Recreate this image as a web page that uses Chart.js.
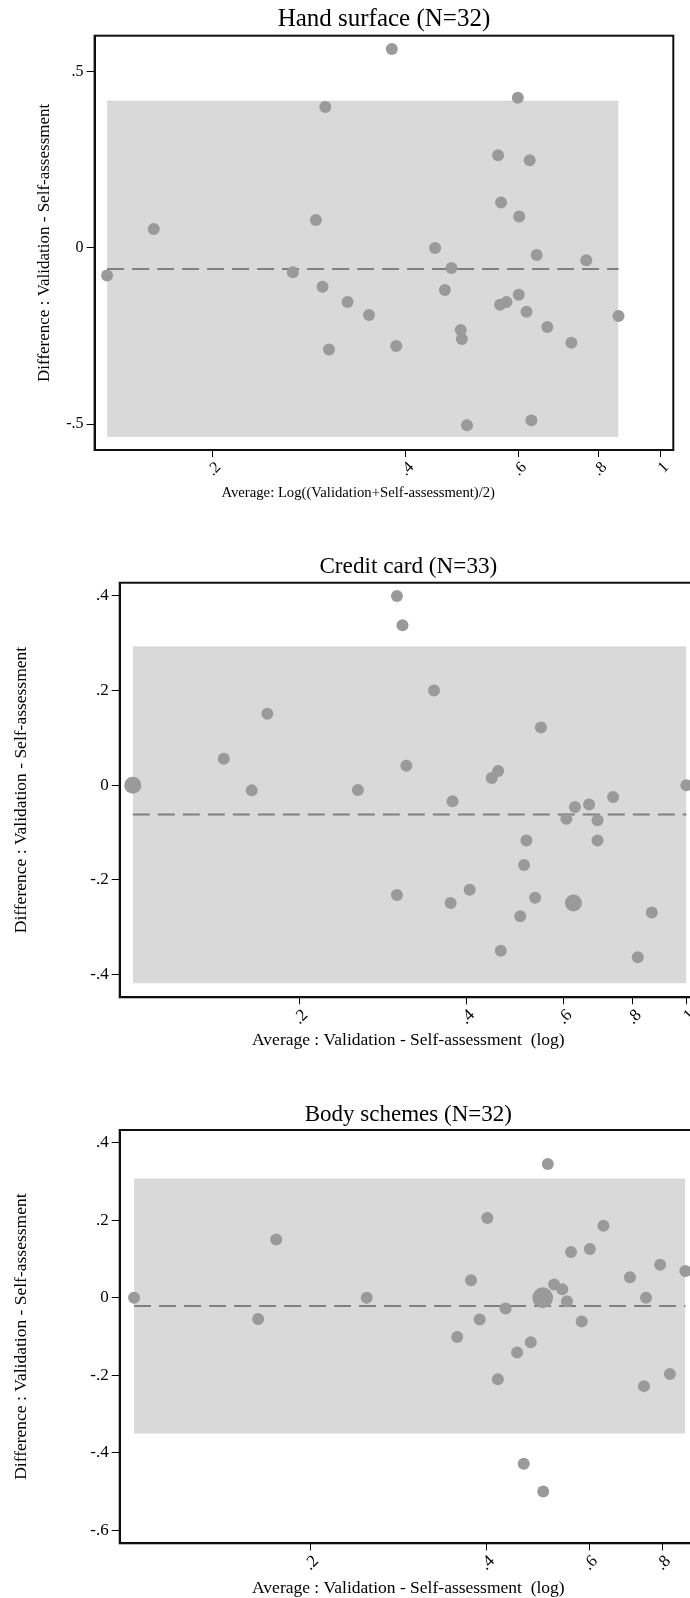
<!DOCTYPE html>
<html>
<head>
<meta charset="utf-8">
<script src="https://cdn.jsdelivr.net/npm/chart.js@4.4.1/dist/chart.umd.min.js"></script>
<style>
html, body { margin: 0; padding: 0; background: #fff; overflow: hidden; width: 690px; height: 1598px; }
.panel { position: absolute; left: 0; }
</style>
</head>
<body>
<div class="panel" style="top:0px"><canvas id="c1" width="720" height="515" style="width:720px;height:515px"></canvas></div>
<div class="panel" style="top:520px"><canvas id="c2" width="720" height="535" style="width:720px;height:535px"></canvas></div>
<div class="panel" style="top:1060px"><canvas id="c3" width="720" height="545" style="width:720px;height:545px"></canvas></div>
<script>
// ---------------- DATA ----------------
// Panel 1: Hand surface (N=32)
const handAvg  = [0.381, 0.599, 0.300, 0.558, 0.625, 0.564, 0.602, 0.290, 0.162, 0.445, 0.137, 0.267, 0.641, 0.766, 0.472, 0.297,
                  0.461, 0.601, 0.325, 0.562, 0.575, 0.618, 0.351, 0.860, 0.666, 0.488, 0.490, 0.726, 0.387, 0.304, 0.629, 0.499];
const handDiff = [0.564, 0.426, 0.400, 0.263, 0.249, 0.129, 0.089, 0.079, 0.054, 0.000, -0.078, -0.069, -0.020, -0.035, -0.057, -0.110,
                  -0.119, -0.133, -0.153, -0.161, -0.153, -0.181, -0.190, -0.193, -0.224, -0.233, -0.258, -0.269, -0.278, -0.288, -0.489, -0.503];
const handLimits = [-0.536, -0.060, 0.416];   // lower limit, mean difference, upper limit
const handXTicks = [0.2, 0.4, 0.6, 0.8, 1];
const handYTicks = [-0.5, 0, 0.5];

// Panel 2: Credit card (N=33)
const cardAvg  = [0.300, 0.307, 0.350, 0.175, 0.546, 0.146, 0.312, 0.457, 0.445, 0.100, 0.100, 1.000, 0.164, 0.255, 0.378, 0.629, 0.667,
                  0.737, 0.607, 0.691, 0.691, 0.514, 0.509, 0.406, 0.300, 0.533, 0.375, 0.625, 0.625, 0.866, 0.501, 0.462, 0.817];
const cardDiff = [0.400, 0.338, 0.200, 0.151, 0.122, 0.056, 0.041, 0.030, 0.015, 0.000, 0.000, 0.000, -0.011, -0.010, -0.034, -0.046, -0.041,
                  -0.025, -0.071, -0.074, -0.117, -0.117, -0.169, -0.221, -0.232, -0.238, -0.249, -0.249, -0.249, -0.269, -0.277, -0.350, -0.364];
const cardLimits = [-0.419, -0.062, 0.292];
const cardXTicks = [0.2, 0.4, 0.6, 0.8, 1];
const cardYTicks = [-0.4, -0.2, 0, 0.2, 0.4];

// Panel 3: Body schemes (N=32)
const bodyAvg  = [0.510, 0.402, 0.635, 0.175, 0.602, 0.559, 0.794, 0.877, 0.705, 0.377, 0.523, 0.540, 0.100, 0.250, 0.500, 0.500,
                  0.500, 0.751, 0.550, 0.432, 0.163, 0.390, 0.583, 0.357, 0.477, 0.452, 0.419, 0.745, 0.825, 0.464, 0.501];
const bodyDiff = [0.345, 0.206, 0.186, 0.150, 0.126, 0.118, 0.085, 0.069, 0.053, 0.045, 0.034, 0.022, 0.000, 0.000, 0.000, 0.000,
                  0.000, 0.000, -0.009, -0.028, -0.055, -0.056, -0.061, -0.101, -0.115, -0.141, -0.210, -0.228, -0.197, -0.428, -0.500];
const bodyLimits = [-0.350, -0.021, 0.306];
const bodyXTicks = [0.2, 0.4, 0.6, 0.8];
const bodyYTicks = [-0.6, -0.4, -0.2, 0, 0.2, 0.4];

// ---------------- RENDERING ----------------
const SERIF = "'Liberation Serif', 'Times New Roman', serif";
const Y_TITLE = 'Difference : Validation - Self-assessment';

function fmt(v) {
  const s = String(+(+v).toFixed(3));
  return s.replace(/^0\./, '.').replace(/^-0\./, '-.');
}

// identical observations are drawn as one larger (area-weighted) marker
function groupPoints(xs, ys) {
  const map = new Map();
  xs.forEach((x, i) => {
    const k = x + '|' + ys[i];
    if (!map.has(k)) map.set(k, { x: x, y: ys[i], n: 0 });
    map.get(k).n++;
  });
  return Array.from(map.values());
}

const framePlugin = {
  id: 'frame',
  afterDatasetsDraw(chart) {
    const { ctx, chartArea: a } = chart;
    ctx.save();
    ctx.strokeStyle = '#111';
    ctx.lineWidth = 2;
    ctx.strokeRect(a.left, a.top, a.right - a.left, a.bottom - a.top);
    ctx.restore();
  }
};

function makePanel(id, title, xTitle, avg, diff, limits, xTicks, yTicks, L) {
  const pts = groupPoints(avg, diff);
  const xmin = Math.min(...avg), xmax = Math.max(...avg);
  const [lower, mean, upper] = limits;
  new Chart(document.getElementById(id), {
    type: 'scatter',
    data: {
      datasets: [
        { data: pts.map(p => ({ x: p.x, y: p.y })), pointRadius: pts.map(p => 6 * Math.sqrt(p.n)),
          backgroundColor: '#9a9a9a', borderWidth: 0, pointHoverRadius: 0, order: 0 },
        { type: 'line', data: [{ x: xmin, y: mean }, { x: xmax, y: mean }], borderColor: '#808080', borderWidth: 2,
          borderDash: [17, 8], pointRadius: 0, fill: false, order: 1 },
        { type: 'line', data: [{ x: xmin, y: upper }, { x: xmax, y: upper }], borderColor: '#d1d1d1', borderWidth: 1,
          backgroundColor: '#d9d9d9', pointRadius: 0, fill: { value: lower }, order: 2 }
      ]
    },
    options: {
      responsive: false, animation: false, events: [],
      layout: { padding: { left: 0, right: L.padRight, top: 0, bottom: 0 } },
      plugins: {
        legend: { display: false }, tooltip: { enabled: false },
        title: { display: true, text: title, fullSize: false, color: '#000',
                 font: { family: SERIF, size: L.titleSize, weight: 'normal', lineHeight: 1.2 },
                 padding: { top: L.tTop, bottom: L.tBottom } }
      },
      scales: {
        x: {
          type: 'logarithmic', min: L.xMin, max: L.xMax,
          afterBuildTicks: s => { s.ticks = xTicks.map(v => ({ value: v })); },
          afterFit: s => { s.height = L.xH; },
          ticks: { autoSkip: false, minRotation: 45, maxRotation: 45, labelOffset: 6, padding: 1, color: '#000',
                   font: { family: SERIF, size: L.tickSize }, callback: v => fmt(v) },
          grid: { display: true, drawOnChartArea: false, drawTicks: true, tickLength: 7, color: '#000', lineWidth: 1 },
          border: { display: true, color: '#000', width: 2 },
          title: { display: true, text: xTitle, color: '#000', font: { family: SERIF, size: L.xTitleSize, lineHeight: 1.2 },
                   padding: { top: 0, bottom: L.xTitlePb } }
        },
        y: {
          type: 'linear', min: L.yMin, max: L.yMax,
          afterBuildTicks: s => { s.ticks = yTicks.map(v => ({ value: v })); },
          afterFit: s => { s.width = L.yW; },
          ticks: { autoSkip: false, padding: 3, color: '#000', font: { family: SERIF, size: L.tickSize }, callback: v => fmt(v) },
          grid: { display: true, drawOnChartArea: false, drawTicks: true, tickLength: 8, color: '#000', lineWidth: 1 },
          border: { display: true, color: '#000', width: 2 },
          title: { display: true, text: Y_TITLE, color: '#000', font: { family: SERIF, size: L.yTitleSize, lineHeight: 1.2 },
                   padding: { top: L.yTitlePt, bottom: 0 } }
        }
      }
    },
    plugins: [framePlugin]
  });
}

makePanel('c1', 'Hand surface (N=32)', 'Average: Log((Validation+Self-assessment)/2)' + '              ',
  handAvg, handDiff, handLimits, handXTicks, handYTicks,
  { padRight: 46.7, titleSize: 25, tTop: 4, tBottom: 1.7, xH: 65, xTitleSize: 14.7, xTitlePb: 12.9,
    yW: 94.6, yTitleSize: 17, yTitlePt: 34.8, tickSize: 16,
    xMin: 0.131, xMax: 1.047, yMin: -0.573, yMax: 0.602 });

makePanel('c2', 'Credit card (N=33)', 'Average : Validation - Self-assessment  (log)',
  cardAvg, cardDiff, cardLimits, cardXTicks, cardYTicks,
  { padRight: 23, titleSize: 23.2, tTop: 32.8, tBottom: 2.1, xH: 57.7, xTitleSize: 17.5, xTitlePb: 4,
    yW: 119.7, yTitleSize: 17.5, yTitlePt: 10.8, tickSize: 17,
    xMin: 0.0947, xMax: 1.045, yMin: -0.4485, yMax: 0.428 });

makePanel('c3', 'Body schemes (N=32)', 'Average : Validation - Self-assessment  (log)',
  bodyAvg, bodyDiff, bodyLimits, bodyXTicks, bodyYTicks,
  { padRight: 23, titleSize: 23, tTop: 41.2, tBottom: 1.2, xH: 61.7, xTitleSize: 17.5, xTitlePb: 6.2,
    yW: 119.7, yTitleSize: 17.5, yTitlePt: 10.8, tickSize: 17,
    xMin: 0.0945, xMax: 0.918, yMin: -0.6335, yMax: 0.4328 });
</script>
</body>
</html>
